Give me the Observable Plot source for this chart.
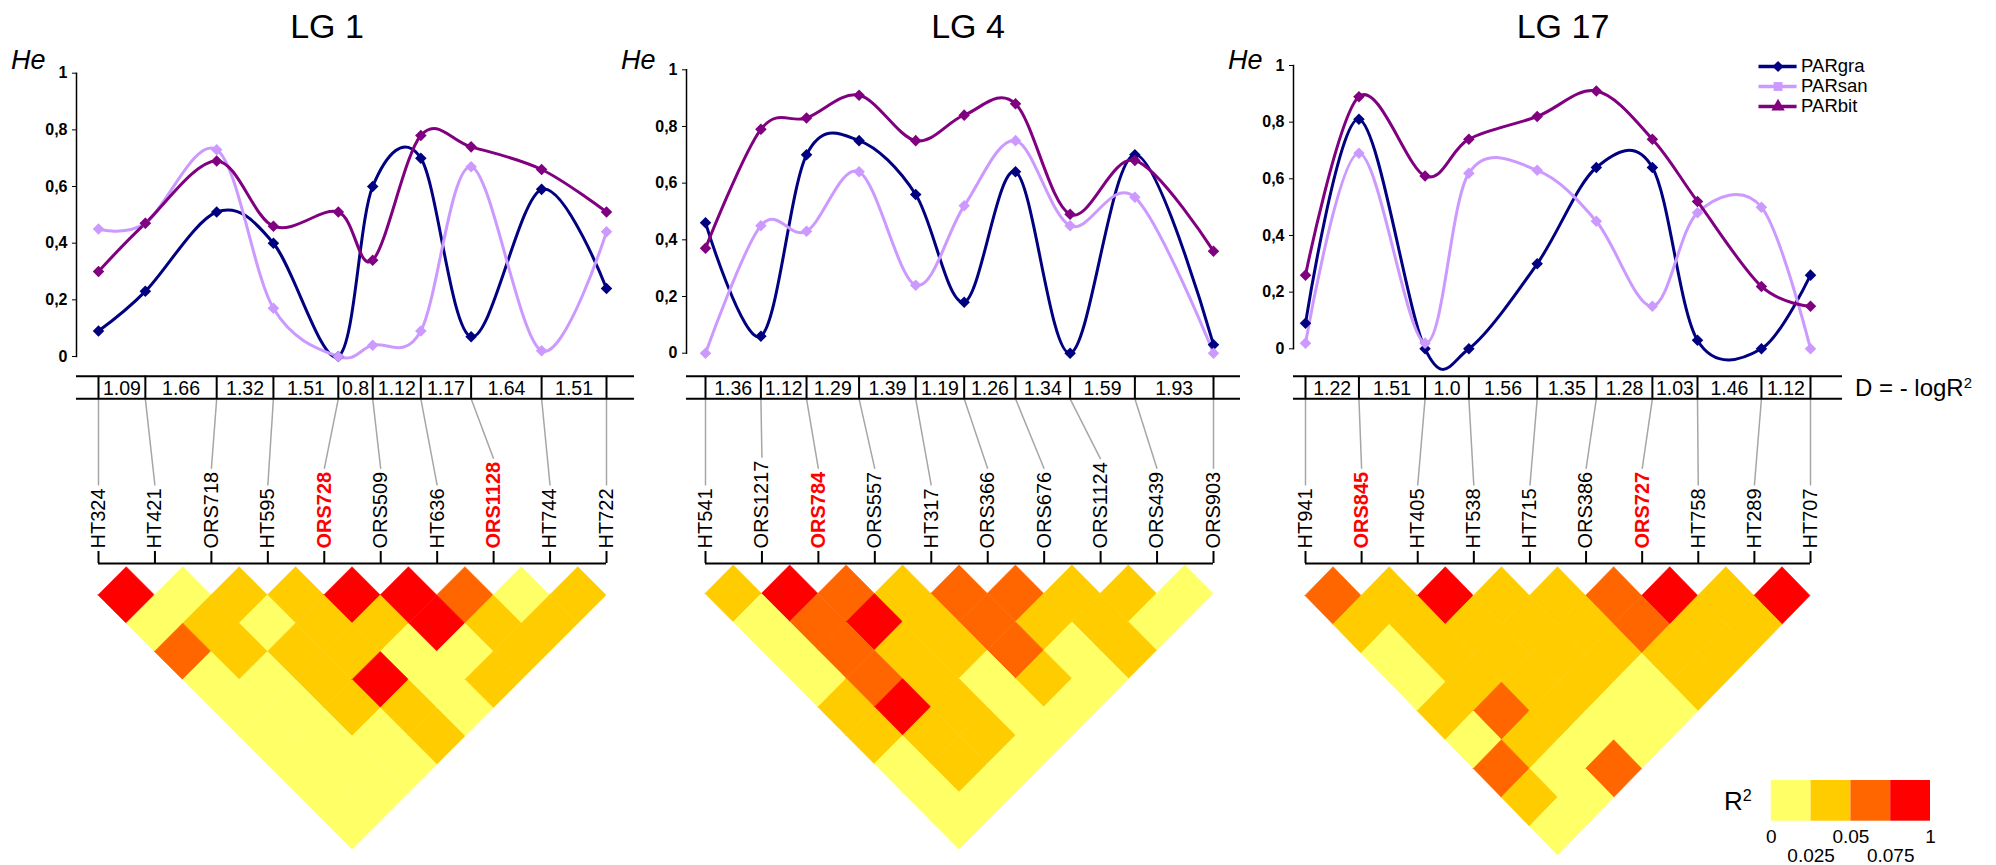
<!DOCTYPE html>
<html><head><meta charset="utf-8">
<script src="https://cdn.jsdelivr.net/npm/d3@7"></script>
<script src="https://cdn.jsdelivr.net/npm/@observablehq/plot@0.6"></script>
<style>
body{margin:0;background:#fff;}
#fig{position:relative;width:1996px;height:865px;overflow:hidden;background:#fff;font-family:"Liberation Sans",Arial,sans-serif;}
#fig svg{position:absolute;left:0;top:0;overflow:visible;}
.t{position:absolute;white-space:nowrap;line-height:1;color:#000;}
.t sup{font-size:0.62em;vertical-align:0.55em;line-height:0;}
</style></head><body><div id="fig"></div>
<script>
// ---------------- DATA ----------------
const titles = ["LG 1", "LG 4", "LG 17"];
const series = ["PARgra", "PARsan", "PARbit"];
const seriesColors = ["#000080", "#CC99FF", "#800080"];
const seriesSymbols = ["diamond2", "square", "triangle"];

// LG 1
const markersLG1 = ["HT324","HT421","ORS718","HT595","ORS728","ORS509","HT636","ORS1128","HT744","HT722"];
const highlightLG1 = ["ORS728","ORS1128"];
const distLG1 = [1.09,1.66,1.32,1.51,0.8,1.12,1.17,1.64,1.51];
const graLG1 = [0.09,0.23,0.51,0.40,0.00,0.60,0.70,0.07,0.59,0.24];
const sanLG1 = [0.45,0.47,0.73,0.17,0.00,0.04,0.09,0.67,0.02,0.44];
const bitLG1 = [0.30,0.47,0.69,0.46,0.51,0.34,0.78,0.74,0.66,0.51];
// R² by marker separation (row 1 = adjacent pairs)
const ldLG1 = [
  [0.1,0.01,0.035,0.035,0.1,0.1,0.06,0.01,0.035],
  [0.01,0.035,0.01,0.035,0.035,0.1,0.035,0.035],
  [0.06,0.035,0.035,0.035,0.01,0.01,0.035],
  [0.01,0.01,0.035,0.1,0.01,0.035],
  [0.01,0.01,0.035,0.035,0.01],
  [0.01,0.01,0.01,0.035],
  [0.01,0.01,0.01],
  [0.01,0.01],
  [0.01]
];

// LG 4
const markersLG4 = ["HT541","ORS1217","ORS784","ORS557","HT317","ORS366","ORS676","ORS1124","ORS439","ORS903"];
const highlightLG4 = ["ORS784"];
const distLG4 = [1.36,1.12,1.29,1.39,1.19,1.26,1.34,1.59,1.93];
const graLG4 = [0.46,0.06,0.70,0.75,0.56,0.18,0.64,0.00,0.70,0.03];
const sanLG4 = [0.00,0.45,0.43,0.64,0.24,0.52,0.75,0.45,0.55,0.00];
const bitLG4 = [0.37,0.79,0.83,0.91,0.75,0.84,0.88,0.49,0.68,0.36];
const ldLG4 = [
  [0.035,0.1,0.06,0.035,0.06,0.06,0.035,0.035,0.01],
  [0.01,0.06,0.1,0.035,0.06,0.035,0.035,0.01],
  [0.01,0.06,0.035,0.035,0.06,0.01,0.035],
  [0.01,0.06,0.035,0.01,0.035,0.01],
  [0.035,0.1,0.035,0.01,0.01],
  [0.035,0.035,0.035,0.01],
  [0.01,0.035,0.01],
  [0.01,0.01],
  [0.01]
];

// LG 17
const markersLG17 = ["HT941","ORS845","HT405","HT538","HT715","ORS386","ORS727","HT758","HT289","HT707"];
const highlightLG17 = ["ORS845","ORS727"];
const distLG17 = [1.22,1.51,1.0,1.56,1.35,1.28,1.03,1.46,1.12];
const graLG17 = [0.09,0.81,0.00,0.00,0.30,0.64,0.64,0.03,0.00,0.26];
const sanLG17 = [0.02,0.69,0.02,0.62,0.63,0.45,0.15,0.48,0.50,0.00];
const bitLG17 = [0.26,0.89,0.61,0.74,0.82,0.91,0.74,0.52,0.22,0.15];
const ldLG17 = [
  [0.06,0.035,0.1,0.035,0.035,0.06,0.1,0.035,0.1],
  [0.035,0.035,0.035,0.035,0.035,0.06,0.035,0.035],
  [0.01,0.035,0.035,0.035,0.035,0.035,0.035],
  [0.01,0.035,0.035,0.035,0.01,0.035],
  [0.035,0.06,0.035,0.01,0.01],
  [0.01,0.035,0.01,0.01],
  [0.06,0.01,0.06],
  [0.035,0.01],
  [0.01]
];

const heTicks = [0, 0.2, 0.4, 0.6, 0.8, 1];
const r2Thresholds = [0.025, 0.05, 0.075];
const r2Colors = ["#FFFF66", "#FFCC00", "#FF6600", "#FF0000"];
const r2TickLabels = ["0", "0.025", "0.05", "0.075", "1"];

// ---------------- LAYOUT ----------------
const W = 1996, H = 865;
const FONT = '"Liberation Sans", Arial, sans-serif';
const RED = "#FF0000";
const LABEL_FS = 20;
const tableTop = 375.7, tableBottom = 398.3, labelBase = 548, bracketY = 563;
const layouts = [
  {titleX: 327, heX: 11, axisLeft: 76, tableRight: 634, xFirst: 98, xLast: 606, yOne: 72.7, yZero: 356, hmTop: 566.7, hmBottom: 849},
  {titleX: 968, heX: 621, axisLeft: 686, tableRight: 1240, xFirst: 705, xLast: 1213, yOne: 69.3, yZero: 352.7, hmTop: 565, hmBottom: 849},
  {titleX: 1563, heX: 1228, axisLeft: 1293, tableRight: 1842, xFirst: 1305, xLast: 1810, yOne: 65, yZero: 348.3, hmTop: 566.7, hmBottom: 855}
];
const panels = [
  {markers: markersLG1, hl: highlightLG1, dist: distLG1, he: [graLG1, sanLG1, bitLG1], ld: ldLG1},
  {markers: markersLG4, hl: highlightLG4, dist: distLG4, he: [graLG4, sanLG4, bitLG4], ld: ldLG4},
  {markers: markersLG17, hl: highlightLG17, dist: distLG17, he: [graLG17, sanLG17, bitLG17], ld: ldLG17}
];

const fig = document.getElementById("fig");
function addText(html, x, baseline, fs, opts = {}) {
  const d = document.createElement("div");
  d.className = "t";
  d.innerHTML = html;
  d.style.fontSize = fs + "px";
  d.style.left = x + "px";
  d.style.top = (baseline - 0.847 * fs) + "px";
  if (opts.center) d.style.transform = "translateX(-50%)";
  if (opts.italic) d.style.fontStyle = "italic";
  if (opts.bold) d.style.fontWeight = "bold";
  fig.appendChild(d);
}
function add(svg) { fig.appendChild(svg); }

const ctx = document.createElement("canvas").getContext("2d");
function textLen(s, bold) { ctx.font = (bold ? "bold " : "") + LABEL_FS + "px 'Liberation Sans', Arial, sans-serif"; return ctx.measureText(s).width; }
const fmtD = v => (Number.isInteger(v) ? v.toFixed(1) : String(v));

panels.forEach((p, pi) => {
  const L = layouts[pi];
  const cum = [0, ...d3.cumsum(p.dist)];
  const total = cum[cum.length - 1];
  const n = p.markers.length;

  addText(titles[pi], L.titleX, 38, 34, {center: true});
  addText("He", L.heX, 70, 27, {italic: true});

  // ---- He line chart ----
  const pts = series.flatMap((s, si) => p.he[si].map((v, k) => ({series: s, pos: cum[k], he: v})));
  add(Plot.plot({
    width: W, height: L.yZero + 20,
    marginTop: L.yOne, marginBottom: 20, marginLeft: L.axisLeft, marginRight: W - L.tableRight,
    style: {background: "transparent", fontFamily: FONT, overflow: "visible"},
    x: {domain: [0, total], range: [L.xFirst, L.xLast], axis: null},
    y: {domain: [0, 1], axis: null},
    color: {domain: series, range: seriesColors},
    marks: [
      Plot.frame({anchor: "left", strokeWidth: 1.5}),
      Plot.axisY({ticks: heTicks, tickFormat: v => (v === 0 || v === 1) ? String(v) : v.toFixed(1).replace(".", ","),
        tickSize: 4, tickPadding: 5, fontSize: 16, fontWeight: "bold", label: null, anchor: "left"}),
      Plot.line(pts, {x: "pos", y: "he", z: "series", stroke: "series", curve: "cardinal", strokeWidth: 3}),
      Plot.dot(pts, {x: "pos", y: "he", fill: "series", symbol: "diamond2", r: 5.2})
    ]
  }));

  // ---- distance table, connectors, marker labels, bracket ----
  const intervals = p.dist.map((v, k) => ({mid: (cum[k] + cum[k + 1]) / 2, label: fmtD(v)}));
  const labs = p.markers.map((m, k) => {
    const bold = p.hl.includes(m);
    return {name: m, bold, pos: total * k / (n - 1), top: labelBase - textLen(m, bold) - 3, cum: cum[k]};
  });
  add(Plot.plot({
    width: W, height: H, marginTop: 0, marginBottom: 0, marginLeft: L.axisLeft, marginRight: W - L.tableRight,
    style: {background: "transparent", fontFamily: FONT, overflow: "visible"},
    x: {domain: [0, total], range: [L.xFirst, L.xLast], axis: null},
    y: {type: "identity", axis: null},
    marks: [
      Plot.link(labs, {x1: "cum", y1: tableBottom, x2: "pos", y2: "top", stroke: "#A6A6A6", strokeWidth: 1.5}),
      Plot.ruleY([tableTop, tableBottom], {stroke: "#000", strokeWidth: 2}),
      Plot.ruleX(cum, {y1: tableTop, y2: tableBottom, stroke: "#000", strokeWidth: 2}),
      Plot.text(intervals, {x: "mid", y: (tableTop + tableBottom) / 2 + 1, text: "label", fontSize: 19.5, fill: "#000"}),
      Plot.text(labs.filter(d => !d.bold), {x: "pos", y: labelBase, text: "name", rotate: -90, textAnchor: "start", fontSize: LABEL_FS, fill: "#000"}),
      Plot.text(labs.filter(d => d.bold), {x: "pos", y: labelBase, text: "name", rotate: -90, textAnchor: "start", fontSize: LABEL_FS, fontWeight: "bold", fill: RED}),
      Plot.ruleX(labs, {x: "pos", y1: labelBase + 3, y2: bracketY, stroke: "#000", strokeWidth: 2}),
      Plot.ruleY([bracketY], {x1: 0, x2: total, stroke: "#000", strokeWidth: 2})
    ]
  }));

  // ---- LD heatmap (diamonds) ----
  const cells = p.ld.flatMap((row, r) => row.map((v, i) => ({id: `${r}-${i}`, i, j: i + r + 1, d: r + 1, r2: v})));
  const verts = cells.flatMap(c => {
    const cx = (c.i + c.j) / 2;
    return [
      {id: c.id, x: cx - 0.5, y1: c.d, y2: c.d, r2: c.r2},
      {id: c.id, x: cx, y1: c.d - 1, y2: c.d + 1, r2: c.r2},
      {id: c.id, x: cx + 0.5, y1: c.d, y2: c.d, r2: c.r2}
    ];
  });
  add(Plot.plot({
    width: W, height: H, marginTop: 0, marginBottom: 0, marginLeft: 0, marginRight: 0,
    style: {background: "transparent", fontFamily: FONT, overflow: "visible"},
    x: {domain: [0, n - 1], range: [L.xFirst, L.xLast], axis: null},
    y: {domain: [0, n], range: [L.hmTop, L.hmBottom], axis: null},
    color: {type: "threshold", domain: r2Thresholds, range: r2Colors},
    marks: [
      Plot.areaY(verts, {x: "x", y1: "y1", y2: "y2", z: "id", fill: "r2", stroke: "r2", strokeWidth: 0.6, curve: "linear"})
    ]
  }));
});

// ---- D = -logR² label ----
addText("D = - logR<sup>2</sup>", 1855, 396, 24);

// ---- series legend ----
add(Plot.plot({
  width: W, height: H, margin: 0,
  style: {background: "transparent", fontFamily: FONT, overflow: "visible"},
  x: {domain: [0, 1], range: [1758.5, 1796.6], axis: null},
  y: {type: "point", domain: series, range: [55, 116.7], axis: null},
  color: {domain: series, range: seriesColors},
  symbol: {domain: series, range: seriesSymbols},
  marks: [
    Plot.ruleY(series, {y: d => d, x1: 0, x2: 1, stroke: d => d, strokeWidth: 3.5}),
    Plot.dot(series, {x: 0.5, y: d => d, fill: d => d, symbol: d => d, r: 5}),
    Plot.text(series, {x: 1, y: d => d, text: d => d, dx: 4, textAnchor: "start", fontSize: 18.5, fill: "#000"})
  ]
}));

// ---- R² legend ----
addText("R<sup>2</sup>", 1724, 810, 26);
const legendBoxes = r2Colors.map((c, k) => ({k, color: c}));
const legendTicks = r2TickLabels.map((t, k) => ({k, t}));
add(Plot.plot({
  width: W, height: H, margin: 0,
  style: {background: "transparent", fontFamily: FONT, overflow: "visible"},
  x: {domain: [0, 4], range: [1770.8, 1930], axis: null},
  y: {type: "identity", axis: null},
  marks: [
    Plot.rect(legendBoxes, {x1: "k", x2: d => d.k + 1, y1: 780, y2: 820.7, fill: "color"}),
    Plot.text(legendTicks, {x: "k", y: d => d.k % 2 ? 855 : 836, text: "t", fontSize: 19, fill: "#000"})
  ]
}));
</script></body></html>
